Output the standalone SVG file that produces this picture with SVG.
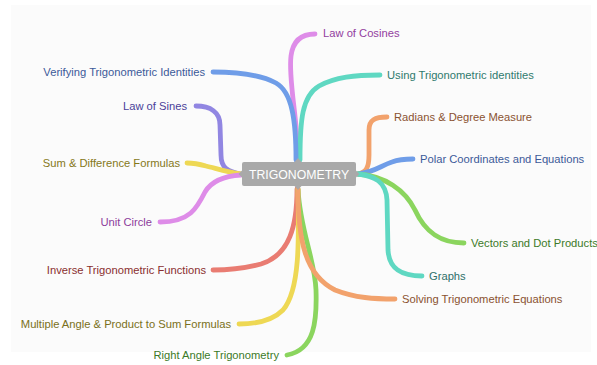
<svg xmlns="http://www.w3.org/2000/svg" width="597" height="365" viewBox="0 0 597 365">
<style>
text{font-family:"Liberation Sans",Arial,sans-serif;font-size:11.2px}
.br{fill:none;stroke-width:4.8;stroke-linecap:round;stroke-linejoin:round}
.l{text-anchor:end}
.violet{stroke:#de8ce8}.teal{stroke:#5fd8c2}.blue{stroke:#6f9de8}.indigo{stroke:#9186e2}
.yellow{stroke:#eed854}.red{stroke:#e97c72}.green{stroke:#8bd55e}.orange{stroke:#f2a26c}
</style>
<rect x="0" y="0" width="597" height="365" fill="#ffffff"/>
<rect x="11" y="5" width="580" height="347" fill="#fbfbfb"/>
<g id="connectors">
<path class="br violet" d="M298,160 C298,120 288,80 291,56 C293,40 302,34 315,34"/>
<path class="br teal" d="M300,160 C300,120 302,96 319,86 C335,77 355,75 380,75"/>
<path class="br blue" d="M296,160 C296,120 292,92 276,83 C261,75 236,72 213,72"/>
<path class="br indigo" d="M241,174 C228,172 221,168 221,155 L220,125 C220,112 210,106 196,106"/>
<path class="br yellow" d="M241,174 C226,172 215,168 206,166 C199,164 194,163 187,163"/>
<path class="br violet" d="M241,175 C225,176 212,180 205,192 C197,208 190,222 160,222"/>
<path class="br red" d="M297,189 C297,225 290,255 261,264 C246,268 230,270 213,270"/>
<path class="br yellow" d="M298,189 C299,240 300,290 283,310 C273,320 258,324 239,324"/>
<path class="br green" d="M298,189 C300,230 315,260 316,290 C317,320 315,350 287,355"/>
<path class="br orange" d="M298,189 C298,240 305,275 335,290 C355,298 375,299 395,299"/>
<path class="br orange" d="M358,174 C366,172 369,168 369,155 L369,130 C369,120 375,117 387,117"/>
<path class="br blue" d="M358,174 C375,172 380,166 392,162 C400,159 405,159 413,159"/>
<path class="br green" d="M358,174 C385,176 405,190 415,210 C425,232 440,243 464,243"/>
<path class="br teal" d="M358,174 C375,176 386,182 387,200 L388,250 C389,268 400,276 422,276"/>
</g>
<g id="center">
<rect x="242" y="162" width="114" height="24" rx="2" fill="#a9a9a9"/>
<path d="M294.5,162 L298,158 L301.5,162 Z M294.5,186 L298,190 L301.5,186 Z M242,170.5 L238.5,174 L242,177.5 Z M356,170.5 L359.5,174 L356,177.5 Z" fill="#a9a9a9"/>
<text x="299" y="178.5" text-anchor="middle" fill="#ffffff" style="font-size:12.3px">TRIGONOMETRY</text>
</g>
<g id="n-law-cosines"><text x="323" y="37" fill="#93409f">Law of Cosines</text></g>
<g id="n-using-identities"><text x="387" y="79" fill="#2f7a6d">Using Trigonometric identities</text></g>
<g id="n-verifying"><text class="l" x="205" y="76" fill="#3b5a99">Verifying Trigonometric Identities</text></g>
<g id="n-law-sines"><text class="l" x="187" y="110" fill="#4a3f99">Law of Sines</text></g>
<g id="n-sum-diff"><text class="l" x="180" y="167" fill="#857819">Sum &amp; Difference Formulas</text></g>
<g id="n-unit-circle"><text class="l" x="152" y="226" fill="#8d3d9c">Unit Circle</text></g>
<g id="n-inverse"><text class="l" x="206" y="274" fill="#8a2f2f">Inverse Trigonometric Functions</text></g>
<g id="n-multiple"><text class="l" x="231" y="328" fill="#7a7020">Multiple Angle &amp; Product to Sum Formulas</text></g>
<g id="n-right-angle"><text class="l" x="279" y="359" fill="#3c7a28">Right Angle Trigonometry</text></g>
<g id="n-solving"><text x="402" y="303" fill="#8a5230">Solving Trigonometric Equations</text></g>
<g id="n-radians"><text x="394" y="121" fill="#8a5230">Radians &amp; Degree Measure</text></g>
<g id="n-polar"><text x="420" y="163" fill="#3b5a99">Polar Coordinates and Equations</text></g>
<g id="n-vectors"><text x="471" y="247" fill="#3c7a28">Vectors and Dot Products</text></g>
<g id="n-graphs"><text x="429" y="280" fill="#2f706a">Graphs</text></g>
</svg>
